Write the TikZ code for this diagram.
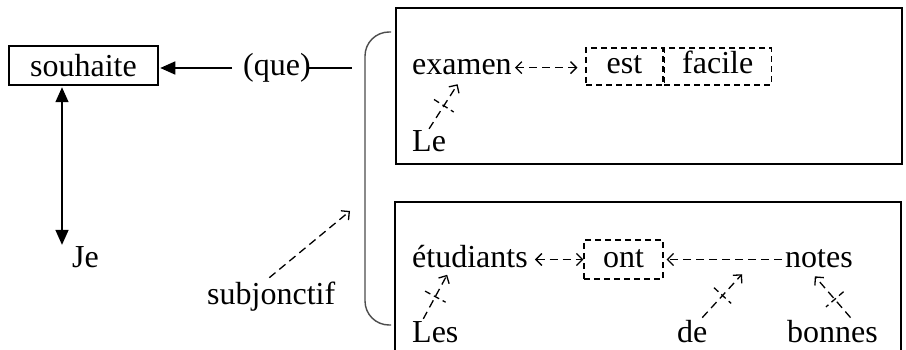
\documentclass[tikz,border=0pt]{standalone}
\usepackage{fontspec}
\setmainfont{Liberation Serif}
\usetikzlibrary{positioning,arrows.meta}
\tikzset{
  solidhead/.tip={Triangle[length=15pt,width=13pt]},
  dashhead/.tip={Straight Barb[length=6pt,width=12pt]}
}

\begin{document}
\begin{tikzpicture}[x=1pt,y=-1pt,every node/.style={font=\fontsize{32}{38}\selectfont},
  word/.style={inner sep=2pt,anchor=base west},
  verb/.style={draw,dash pattern=on 6pt off 4pt,line width=1.2pt,inner sep=0pt,
    minimum height=37pt,text height=22pt,text depth=7pt},
  dep/.style={dash pattern=on 8pt off 5pt,line width=1.3pt,-{dashhead}},
  link/.style={dep,{dashhead}-{dashhead}},
  cut/.style={sloped,minimum height=22pt,minimum width=0pt,inner sep=0pt},
  cutline/.style={dash pattern=on 6pt off 4pt,line width=1.3pt},
  main/.style={line width=1.6pt}]
\useasboundingbox (0,0) rectangle (906,350);
% main clause on the left
\node[draw,line width=1.5pt,minimum width=149pt,minimum height=39pt,inner sep=0pt] (souhaite) at (83.5,65.5) {souhaite};
\node[inner sep=2pt,anchor=west] (que) at (241,68) {(que)};
\node[word] (je) at (70,268) {Je};
\node[word] (subj) at (205,305) {subjonctif};
\coordinate (brk) at (352,68);
\coordinate (jtop) at ([xshift=-8pt]je.north west);
\coordinate (subjtip) at (350,211);
\draw[main,-{solidhead},shorten <=9pt,shorten >=1.5pt] (que.west) -- (que.west -| souhaite.east);
\draw[main] ([xshift=-6pt]que.east) -- (brk);
\draw[main,{solidhead}-{solidhead},shorten <=1.5pt] (souhaite.south -| jtop) -- (jtop);
\draw[dep,shorten <=4pt] ([xshift=-5pt]subj.north) -- (subjtip);
\draw[black!70,line width=1.4pt,rounded corners=24pt] (391,32) -- (365,32) -- (365,325) -- (391,325);

% subordinate clauses
\node[draw,line width=1.8pt,minimum width=506pt,minimum height=156pt,anchor=north west] (top) at (395,7) {};
\draw[line width=1.8pt] (395,351) |- (901,202) -- (901,351);

\node[word] (examen) at (410,75) {examen};
\node[verb,minimum width=77pt] (est) at (624.5,66.5) {est};
\node[verb,minimum width=107pt,right=0pt of est] (facile) {facile};
\node[word] (le) at (410,152) {Le};
\draw[link,shorten <=1pt,shorten >=8pt] (examen.east) -- (examen.east -| est.west);
\draw[dep,shorten >=8pt] (le.north) -- node[cut,pos=0.45] (x1) {} (examen.south);
\draw[cutline] (x1.north) -- (x1.south);

\node[word] (etud) at (410,267) {étudiants};
\node[verb,minimum width=79pt,minimum height=39pt] (ont) at (623.5,259.5) {ont};
\node[word] (notes) at (783,267) {notes};
\node[word] (les) at (410,342) {Les};
\node[word] (de) at (675,342) {de};
\node[word] (bonnes) at (785,342) {bonnes};
\draw[link,shorten <=5pt] (etud.east |- ont.west) -- (ont.west);
\draw[dep,shorten <=1pt,shorten >=3pt] (notes.west |- ont.east) -- node[coordinate,pos=0.23] (np) {} (ont.east);
\draw[dep,shorten >=6pt] ([xshift=-12pt]les.north) -- node[cut,pos=0.45] (x2) {} ([xshift=40pt]etud.south west);
\draw[cutline] (x2.north) -- (x2.south);
\draw[dep,shorten >=20pt] ([xshift=10pt]de.north) -- node[cut,pos=0.38] (x3) {} (np);
\draw[cutline] (x3.north) -- (x3.south);
\draw[dep,shorten >=9pt] ([xshift=18pt]bonnes.north) -- node[cut,pos=0.38] (x4) {} ([xshift=-10pt]notes.south);
\draw[cutline] (x4.north) -- (x4.south);
\end{tikzpicture}
\end{document}
